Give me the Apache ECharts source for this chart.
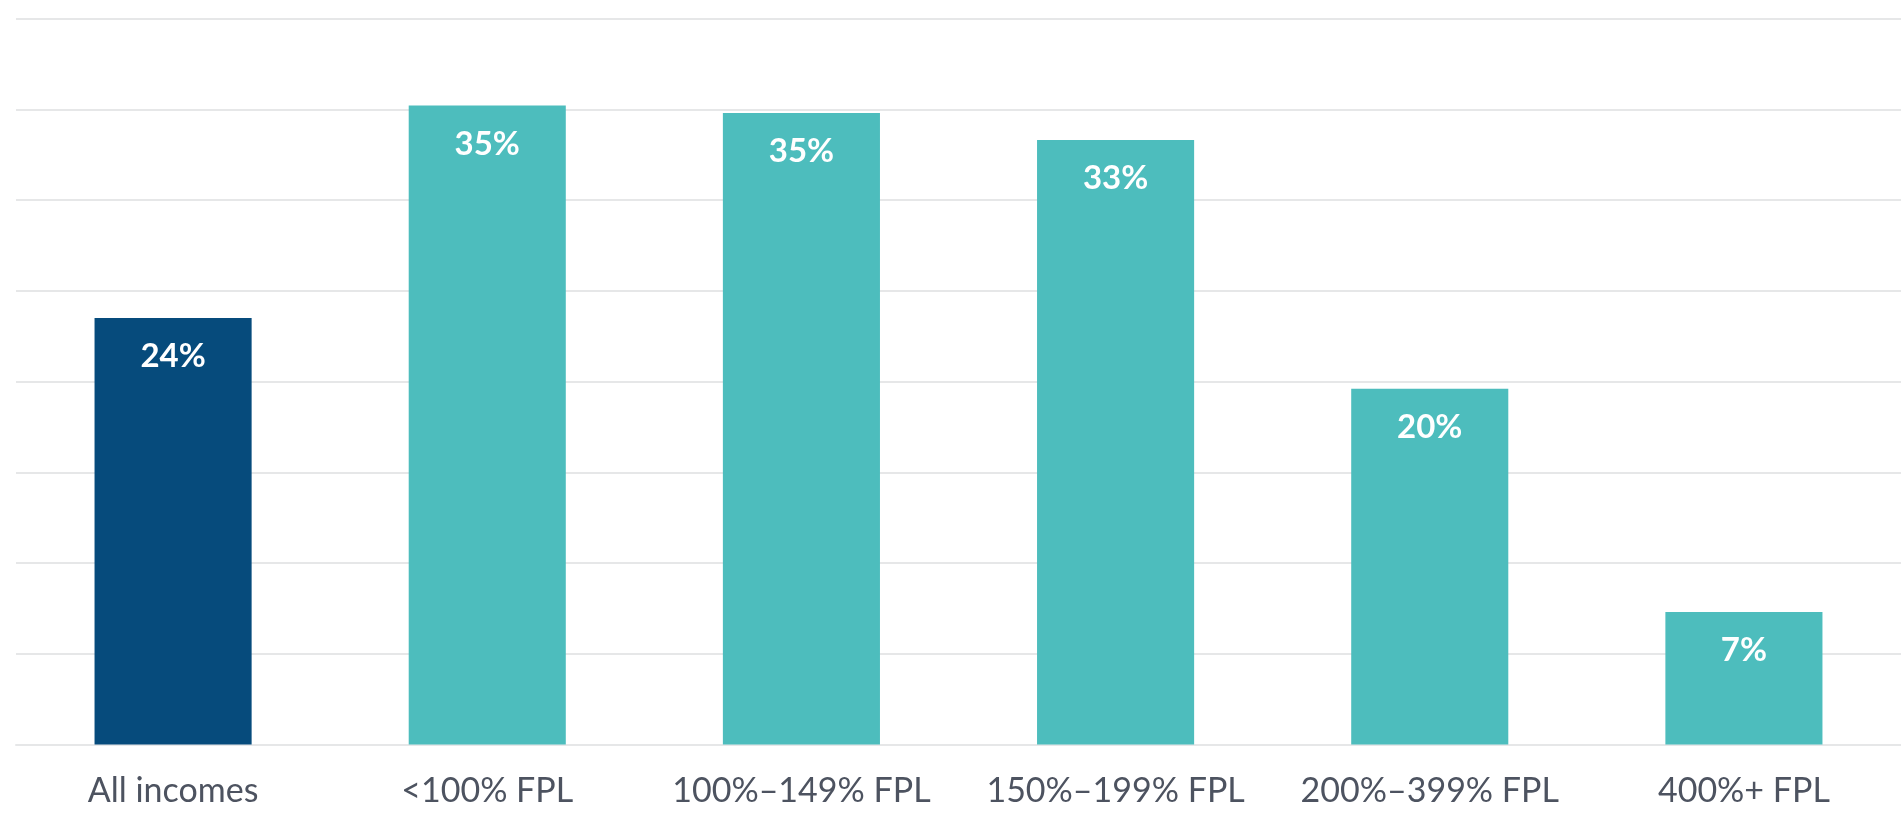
<!DOCTYPE html>
<html>
<head>
<meta charset="utf-8">
<script src="https://cdn.jsdelivr.net/npm/echarts@6/dist/echarts.min.js"></script>
<style>
  html, body { margin: 0; padding: 0; background: #fff; }
  #chart { width: 1901px; height: 820px; }
</style>
</head>
<body>
<div id="chart"></div>
<script>
// 类目
const categories = ["All incomes", "<100% FPL", "100%\u2013149% FPL", "150%\u2013199% FPL", "200%\u2013399% FPL", "400%+ FPL"];
// 柱高 (%)
const values = [23.5, 35.2, 34.8, 33.3, 19.6, 7.3];
// 柱上文字
const valueLabels = ["24%", "35%", "35%", "33%", "20%", "7%"];
// 颜色
const barColors = ["#064b7c", "#4dbdbd", "#4dbdbd", "#4dbdbd", "#4dbdbd", "#4dbdbd"];

const myChart = echarts.init(document.getElementById("chart"));
const option = {
  animation: false,
  grid: { left: 16, right: 0, top: 18.5, bottom: 75.5 },
  xAxis: {
    type: "category",
    data: categories,
    axisTick: { show: false },
    axisLine: { show: true, lineStyle: { color: "#e6e7e8", width: 2 } },
    axisLabel: {
      interval: 0,
      color: "#4d5360",
      fontFamily: "Lato",
      fontSize: 34,
      margin: 30
    }
  },
  yAxis: {
    type: "value",
    min: 0,
    max: 40,
    interval: 5,
    axisLabel: { show: false },
    axisLine: { show: false },
    axisTick: { show: false },
    splitLine: { lineStyle: { color: "#e6e7e8", width: 2 } }
  },
  series: [{
    type: "bar",
    barWidth: "50%",
    data: values.map((v, i) => ({ value: v, itemStyle: { color: barColors[i] } })),
    label: {
      show: true,
      position: "insideTop",
      distance: 22,
      color: "#fff",
      fontFamily: "Lato",
      fontWeight: "bold",
      fontSize: 33,
      formatter: p => valueLabels[p.dataIndex]
    }
  }]
};
myChart.setOption(option);
</script>
</body>
</html>
